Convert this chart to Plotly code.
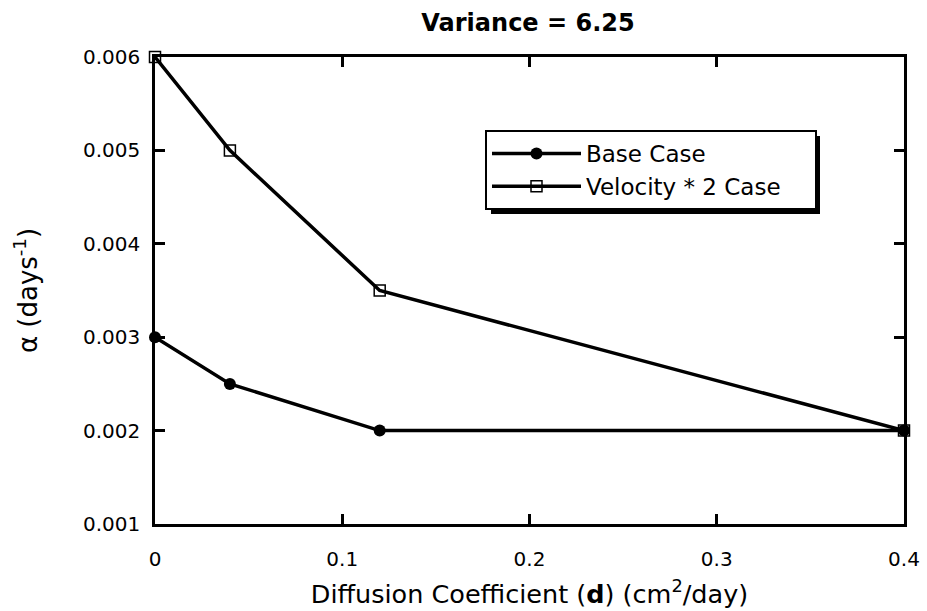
import plotly.graph_objects as go

diffusion = [0, 0.04, 0.12, 0.4]
base_case = [0.003, 0.0025, 0.002, 0.002]
velocity_x2 = [0.006, 0.005, 0.0035, 0.002]
x_ticks = [0, 0.1, 0.2, 0.3, 0.4]
x_ticktext = ["0", "0.1", "0.2", "0.3", "0.4"]
y_ticks = [0.001, 0.002, 0.003, 0.004, 0.005, 0.006]
y_ticktext = ["0.001", "0.002", "0.003", "0.004", "0.005", "0.006"]
series_names = ["Base Case", "Velocity * 2 Case"]

L, R, T, B = 155, 23, 57, 87
W, H = 927, 611
FONT = "DejaVu Sans, Liberation Sans, Arial, sans-serif"
PAD = "\u00a0\u00a0\u00a0\u00a0"

fig = go.Figure()
fig.add_trace(go.Scatter(
    x=diffusion, y=velocity_x2, name=series_names[1] + PAD, mode="lines+markers",
    line=dict(color="black", width=3.5),
    marker=dict(symbol="square-open", size=11, color="black", line=dict(width=1.5)),
))
fig.add_trace(go.Scatter(
    x=diffusion, y=base_case, name=series_names[0], mode="lines+markers",
    line=dict(color="black", width=3.5),
    marker=dict(symbol="circle", size=12, color="black"),
))

pw = W - L - R
ph = H - T - B
def px(x): return (x - L) / pw
def py(y): return 1 - (y - T) / ph

# legend drop shadow
lx0, ly0, lx1, ly1 = 485, 130, 814, 208
fig.add_shape(type="rect", xref="paper", yref="paper",
              x0=px(lx0 + 6), x1=px(lx1 + 6), y0=py(ly1 + 6), y1=py(ly0 + 6),
              fillcolor="black", line=dict(width=0), layer="above")

fig.update_layout(
    width=W, height=H,
    margin=dict(l=L, r=R, t=T, b=B, autoexpand=False),
    paper_bgcolor="white", plot_bgcolor="white",
    font=dict(family=FONT, color="black", size=20),
    title=dict(text="<b>Variance = 6.25</b>", xref="paper", x=px(528), xanchor="center",
               yref="container", y=1 - 23 / H, yanchor="middle", font=dict(size=24, family=FONT)),
    showlegend=True,
    legend=dict(x=px(lx0), y=py(ly0), xanchor="left", yanchor="top",
                bgcolor="white", bordercolor="black", borderwidth=2,
                font=dict(size=23, family=FONT), traceorder="reversed", itemwidth=89,
                tracegroupgap=0),
    xaxis=dict(range=[0, 0.4], tickvals=x_ticks, ticktext=x_ticktext, automargin=False,
               showgrid=False, zeroline=False, showline=True, linecolor="black", linewidth=2.5,
               mirror="ticks", ticks="inside", ticklen=10, tickwidth=2.5, tickcolor="black",
               tickfont=dict(size=20, family=FONT), ticklabelstandoff=15,
               title=dict(text="Diffusion Coefficient (<b>d</b>) (cm<sup>2</sup>/day)",
                          font=dict(size=25.5, family=FONT), standoff=16)),
    yaxis=dict(range=[0.001, 0.006], tickvals=y_ticks, ticktext=y_ticktext, automargin=False,
               showgrid=False, zeroline=False, showline=True, linecolor="black", linewidth=2.5,
               mirror="ticks", ticks="inside", ticklen=10, tickwidth=2.5, tickcolor="black",
               tickfont=dict(size=20, family=FONT), ticklabelstandoff=8,
               title=dict(text="α (days<sup>-1</sup>)", font=dict(size=26, family=FONT),
                          standoff=38)),
)
fig.update_traces(cliponaxis=False)
fig.write_html("out.html")
